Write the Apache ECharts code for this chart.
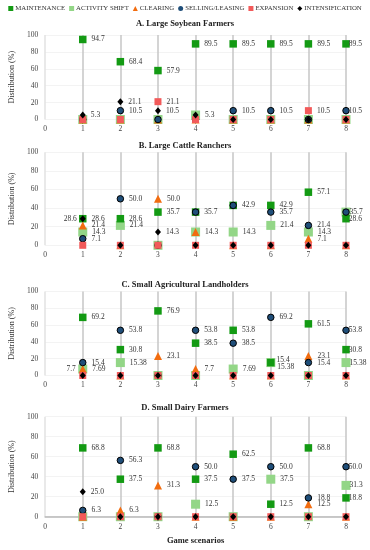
<!DOCTYPE html>
<html><head><meta charset="utf-8">
<script src="https://cdn.jsdelivr.net/npm/echarts@6/dist/echarts.min.js"></script>
<style>html,body{margin:0;padding:0;background:#fff}#c{width:370px;height:550px}</style>
</head><body><div id="c"></div>
<script>
const scenarios = [1, 2, 3, 4, 5, 6, 7, 8];
const xTickLabels = ['0', '1', '2', '3', '4', '5', '6', '7', '8'];
const yTickLabels = ['0', '20', '40', '60', '80', '100'];
const seriesNames = ['MAINTENANCE', 'ACTIVITY SHIFT', 'CLEARING', 'SELLING/LEASING', 'EXPANSION', 'INTENSIFICATION'];
const panelTitles = ['A. Large Soybean Farmers', 'B. Large Cattle Ranchers', 'C. Small Agricultural Landholders', 'D. Small Dairy Farmers'];

// A. Large Soybean Farmers
const soyMaintenance     = [94.7, 68.4, 57.9, 89.5, 89.5, 89.5, 89.5, 89.5];
const soyActivityShift   = [0, 0, 0, 5.3, 0, 0, 0, 0];
const soyClearing        = [0, 0, 0, 0, 0, 0, 0, 0];
const soySelling         = [0, 10.5, 0, 0, 10.5, 10.5, 0, 10.5];
const soyExpansion       = [0, 0, 21.1, 0, 0, 0, 10.5, 0];
const soyIntensification = [5.3, 21.1, 10.5, 5.3, 0, 0, 0, 0];

// B. Large Cattle Ranchers
const cattleMaintenance     = [28.6, 28.6, 35.7, 35.7, 42.9, 42.9, 57.1, 28.6];
const cattleActivityShift   = [14.3, 21.4, 0, 14.3, 14.3, 21.4, 14.3, 35.7];
const cattleClearing        = [21.4, 0, 50.0, 14.3, 0, 0, 7.1, 0];
const cattleSelling         = [7.1, 50.0, 0, 35.7, 42.9, 35.7, 21.4, 35.7];
const cattleExpansion       = [0, 0, 0, 0, 0, 0, 0, 0];
const cattleIntensification = [28.6, 0, 14.3, 0, 0, 0, 0, 0];

// C. Small Agricultural Landholders
const landMaintenance     = [69.2, 30.8, 76.9, 38.5, 53.8, 15.4, 61.5, 30.8];
const landActivityShift   = [7.69, 15.38, 0, 0, 7.69, 15.38, 0, 15.38];
const landClearing        = [7.7, 0, 23.1, 7.7, 0, 0, 23.1, 0];
const landSelling         = [15.4, 53.8, 0, 53.8, 38.5, 69.2, 15.4, 53.8];
const landExpansion       = [0, 0, 0, 0, 0, 0, 0, 0];
const landIntensification = [0, 0, 0, 0, 0, 0, 0, 0];

// D. Small Dairy Farmers
const dairyMaintenance     = [68.8, 37.5, 68.8, 37.5, 62.5, 12.5, 68.8, 18.8];
const dairyActivityShift   = [0, 0, 0, 12.5, 0, 37.5, 0, 31.3];
const dairyClearing        = [0, 6.3, 31.3, 0, 0, 0, 12.5, 0];
const dairySelling         = [6.3, 56.3, 0, 50.0, 37.5, 50.0, 18.8, 50.0];
const dairyExpansion       = [0, 0, 0, 0, 0, 0, 0, 0];
const dairyIntensification = [25.0, 0, 0, 0, 0, 0, 0, 0];

const panels = [
  [soyMaintenance, soyActivityShift, soyClearing, soySelling, soyExpansion, soyIntensification],
  [cattleMaintenance, cattleActivityShift, cattleClearing, cattleSelling, cattleExpansion, cattleIntensification],
  [landMaintenance, landActivityShift, landClearing, landSelling, landExpansion, landIntensification],
  [dairyMaintenance, dairyActivityShift, dairyClearing, dairySelling, dairyExpansion, dairyIntensification]
];

// label placement exceptions: [panel, series, scenario]
const labelLeft = [[1, 5, 1], [2, 2, 1]];
const labelUp = [[2, 0, 6]];
const labelDown = [[2, 1, 6]];

const styles = [
  {symbol: 'rect', size: 7.5, color: '#139a13', z: 3},
  {symbol: 'rect', size: 9, color: '#93d687', z: 2},
  {symbol: 'triangle', size: 8, color: '#f26c0f', z: 3},
  {symbol: 'circle', size: 6.5, color: '#1f4e79', border: '#000', z: 4},
  {symbol: 'rect', size: 7, color: '#f25a5a', z: 5},
  {symbol: 'diamond', size: [6, 7], color: '#000', z: 6}
];

const grids = [
  {top: 35, height: 84.5},
  {top: 152.3, height: 93},
  {top: 291.5, height: 84},
  {top: 416.7, height: 100}
];
const titleTops = [19.5, 141, 280, 403];
const FONT = '"Liberation Serif", "DejaVu Serif", serif';

function has(list, p, s, x) { return list.some(e => e[0] === p && e[1] === s && e[2] === x); }
function fmt(v) { const s = String(v); return s.indexOf('.') < 0 ? s + '.0' : s; }

const option = {
  animation: false,
  backgroundColor: '#fff',
  textStyle: {fontFamily: FONT},
  legend: {
    top: 5, left: 'center', width: 360, padding: 0, itemWidth: 5, itemHeight: 5, itemGap: 4,
    textStyle: {fontSize: 6.8, color: '#333', fontFamily: FONT, padding: [0, 0, 0, -3]},
    data: seriesNames.map((n, i) => ({name: n, icon: styles[i].symbol,
      itemStyle: {borderWidth: 0}}))
  },
  title: panelTitles.map((t, i) => ({
    text: t, left: 'center', top: titleTops[i], padding: 0,
    textStyle: {fontSize: 8.5, fontWeight: 'bold', color: '#222', fontFamily: FONT}
  })),
  grid: grids.map(g => ({left: 36, right: 24, top: g.top, height: g.height})),
  xAxis: grids.map((g, i) => ({
    type: 'value', gridIndex: i, min: 0, max: 8, interval: 1,
    axisLine: {show: i === 3, lineStyle: {color: '#b8b8b8', width: 1.5}},
    axisTick: {show: false},
    axisLabel: {fontSize: 7.5, color: '#444', margin: 6, fontFamily: FONT,
      formatter: v => xTickLabels[v]},
    splitLine: {show: true, lineStyle: {color: ['#e2e2e2', '#c6c6c6', '#c6c6c6', '#c6c6c6', '#c6c6c6', '#c6c6c6', '#c6c6c6', '#c6c6c6', '#c6c6c6'], width: 1.5}},
    name: i === 3 ? 'Game scenarios' : '', nameLocation: 'middle', nameGap: 20,
    nameTextStyle: {fontSize: 8.5, fontWeight: 'bold', color: '#222', fontFamily: FONT}
  })),
  yAxis: grids.map((g, i) => ({
    type: 'value', gridIndex: i, min: 0, max: 100, interval: 20,
    axisLine: {show: false}, axisTick: {show: false},
    axisLabel: {fontSize: 7.5, color: '#444', margin: 7, fontFamily: FONT,
      formatter: v => yTickLabels[v / 20]},
    splitLine: {show: true, lineStyle: {color: '#f3f3f3', width: 1}},
    name: 'Distribution (%)', nameLocation: 'middle', nameGap: 20,
    nameTextStyle: {fontSize: 8, color: '#333', fontFamily: FONT}
  })),
  series: []
};

panels.forEach((panel, p) => {
  panel.forEach((vals, s) => {
    const st = styles[s];
    const data = vals.map((v, k) => {
      const x = scenarios[k];
      let show = v > 0;
      const left = has(labelLeft, p, s, x);
      if (show && !left) {
        for (let q = 0; q < s; q++) {
          if (panel[q][k] === v) { show = false; break; }
        }
      }
      const label = {show: show, formatter: fmt(v)};
      if (left) { label.position = 'left'; label.distance = 3; }
      let oy = 0;
      if (has(labelUp, p, s, x)) oy = -3;
      if (has(labelDown, p, s, x)) oy = 4;
      let ox = (x === 8 && !left) ? -6 : 0;
      if (has(labelUp, p, s, x) || has(labelDown, p, s, x)) ox = -3;
      label.offset = [ox, oy];
      return {value: [x, v], label: label};
    });
    option.series.push({
      type: 'scatter', name: seriesNames[s], xAxisIndex: p, yAxisIndex: p,
      symbol: st.symbol, symbolSize: st.size, z: st.z,
      itemStyle: {color: st.color, borderColor: st.border || st.color, borderWidth: st.border ? 1 : 0, opacity: 1},
      label: {position: 'right', distance: 5, fontSize: 7.5, color: '#333', fontFamily: FONT},
      emphasis: {disabled: true},
      data: data
    });
  });
});

const chart = echarts.init(document.getElementById('c'), null, {renderer: 'canvas'});
chart.setOption(option);
</script>
</body></html>
